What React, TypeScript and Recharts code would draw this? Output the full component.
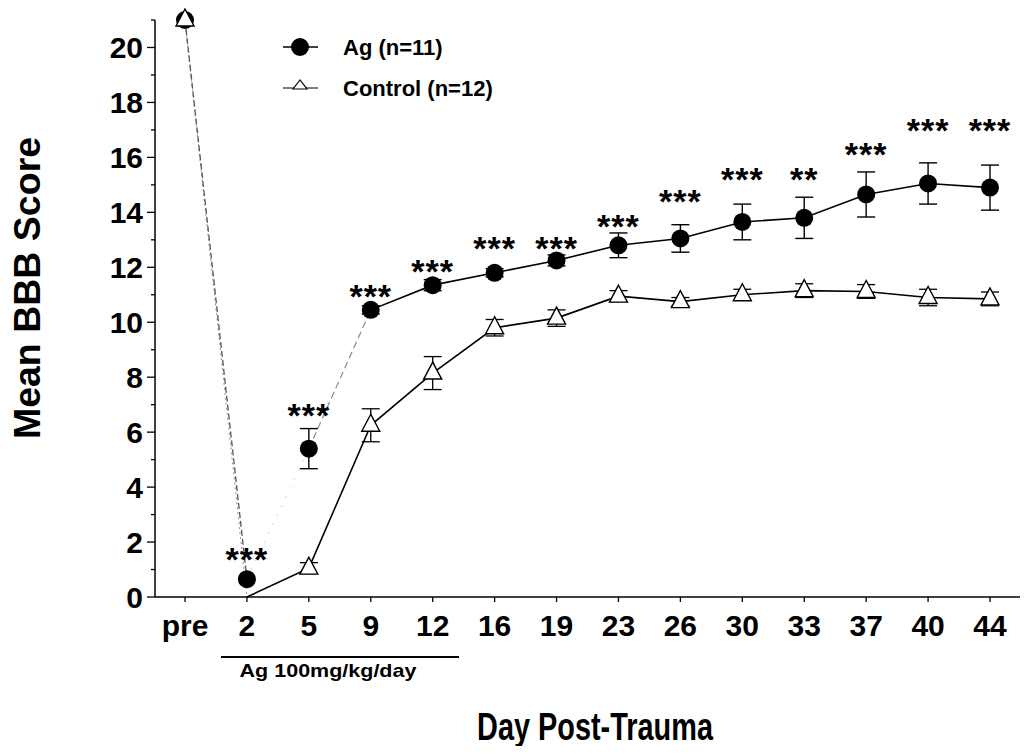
import { LineChart, Line, XAxis, YAxis, ErrorBar, LabelList } from "recharts";

const FONT = '"Liberation Sans", Arial, Helvetica, sans-serif';

const days = ["pre", "2", "5", "9", "12", "16", "19", "23", "26", "30", "33", "37", "40", "44"];
const agMean = [21, 0.65, 5.4, 10.45, 11.35, 11.8, 12.25, 12.8, 13.05, 13.65, 13.8, 14.65, 15.05, 14.9];
const agSem = [null, null, 0.73, 0.15, 0.2, 0.15, 0.2, 0.45, 0.5, 0.65, 0.75, 0.82, 0.75, 0.82];
const ctlMean = [21, 0, 1.05, 6.25, 8.15, 9.8, 10.15, 10.95, 10.75, 11.0, 11.15, 11.12, 10.9, 10.85];
const ctlSem = [null, null, 0.2, 0.6, 0.6, 0.3, 0.3, 0.2, 0.15, 0.2, 0.25, 0.25, 0.3, 0.25];
// significance marks and the height (in score units) they sit at
const sigText = ["", "***", "***", "***", "***", "***", "***", "***", "***", "***", "**", "***", "***", "***"];
const sigLevel = [null, 1.67, 6.9, 11.25, 12.15, 13.0, 13.0, 13.8, 14.7, 15.5, 15.5, 16.4, 17.3, 17.3];
const yTicks = [0, 1, 2, 3, 4, 5, 6, 7, 8, 9, 10, 11, 12, 13, 14, 15, 16, 17, 18, 19, 20, 21];

// early segments are printed faint in the original scan
const i2 = days.indexOf("2");
const i5 = days.indexOf("5");
const i9 = days.indexOf("9");

const data = days.map((day, i) => ({
  day,
  ag: agMean[i],
  agErr: agSem[i],
  agSegA: i <= i2 ? agMean[i] : null,
  agSegB: i >= i2 && i <= i5 ? agMean[i] : null,
  agSegC: i >= i5 && i <= i9 ? agMean[i] : null,
  agSolid: i >= i9 ? agMean[i] : null,
  ctl: ctlMean[i],
  ctlErr: ctlSem[i],
  ctlFaint: i <= i2 ? ctlMean[i] : null,
  ctlSolid: i >= i2 ? ctlMean[i] : null,
  sig: sigLevel[i],
  sigText: sigText[i],
}));

const CircleDot = (props: any) => {
  const { cx, cy, index } = props;
  if (cx == null || cy == null) return <g key={`a${index}`} />;
  return <circle key={`a${index}`} cx={cx} cy={cy} r={9} fill="#000" />;
};

const TriangleDot = (props: any) => {
  const { cx, cy, index, payload } = props;
  if (cx == null || cy == null || payload.day === "2") return <g key={`c${index}`} />;
  return (
    <polygon
      key={`c${index}`}
      points={`${cx},${cy - 11} ${cx - 9},${cy + 6} ${cx + 9},${cy + 6}`}
      fill="#fff"
      stroke="#000"
      strokeWidth={1.4}
    />
  );
};

const YTick = (props: any) => {
  const { x, y, payload } = props;
  const major = payload.value % 2 === 0;
  const ax = x + 12;
  return (
    <g>
      <line x1={ax - (major ? 8 : 4)} x2={ax} y1={y} y2={y} stroke="#000" strokeWidth={1.3} />
      {major && (
        <text x={x} y={y + 11} textAnchor="end" fontSize={30} fontWeight="bold" fontFamily={FONT} fill="#000">
          {payload.value}
        </text>
      )}
    </g>
  );
};

const XTick = (props: any) => {
  const { x, y, payload } = props;
  return (
    <text x={x} y={y + 32} textAnchor="middle" fontSize={30} fontWeight="bold" fontFamily={FONT} fill="#000">
      {payload.value}
    </text>
  );
};

const StarLabel = (props: any) => {
  const { x, y, value } = props;
  if (!value || y == null) return null;
  return (
    <text x={x} y={y + 20} textAnchor="middle" fontSize={34} fontWeight="bold" fontFamily={FONT} fill="#000" letterSpacing={1}>
      {value}
    </text>
  );
};

const LegendBox = () => (
  <svg width={260} height={70} style={{ position: "absolute", left: 272, top: 25 }}>
    <line x1={3} x2={38} y1={14} y2={14} stroke="#000" strokeWidth={1.4} />
    <circle cx={20} cy={14} r={9} fill="#000" />
    <text x={63} y={22} fontSize={22} fontWeight="bold" fontFamily={FONT} fill="#000">Ag (n=11)</text>
    <line x1={3} x2={38} y1={55} y2={55} stroke="#000" strokeWidth={1.2} />
    <polygon points="20,47 13,56 27,56" fill="#fff" stroke="#000" strokeWidth={1.2} />
    <text x={63} y={63} fontSize={22} fontWeight="bold" fontFamily={FONT} fill="#000">Control (n=12)</text>
  </svg>
);

export default function App() {
  return (
    <div style={{ position: "relative", width: 1015, height: 738, background: "#fff", fontFamily: FONT }}>
      <LineChart width={1015} height={738} data={data} margin={{ top: 12, right: 3, left: 0, bottom: 99 }}>
        <XAxis
          dataKey="day"
          padding={{ left: 30, right: 30 }}
          height={50}
          tickSize={5}
          tickMargin={2}
          tick={<XTick />}
          tickLine={{ stroke: "#000", strokeWidth: 1.3 }}
          axisLine={{ stroke: "#000", strokeWidth: 1.5 }}
          interval={0}
        />
        <YAxis
          width={147}
          domain={[0, 21]}
          ticks={yTicks}
          interval={0}
          tickSize={8}
          tickMargin={4}
          tickLine={false}
          tick={<YTick />}
          axisLine={{ stroke: "#000", strokeWidth: 1.5 }}
        />
        <Line dataKey="ctlFaint" stroke="#999" strokeWidth={1.1} strokeDasharray="2 3" dot={false} isAnimationActive={false} legendType="none" />
        <Line dataKey="agSegA" stroke="#555" strokeWidth={1.3} strokeDasharray="6 3" dot={false} isAnimationActive={false} legendType="none" />
        <Line dataKey="agSegB" stroke="#d6d6d6" strokeWidth={1} strokeDasharray="2 8" dot={false} isAnimationActive={false} legendType="none" />
        <Line dataKey="agSegC" stroke="#8a8a8a" strokeWidth={1.2} strokeDasharray="7 4" dot={false} isAnimationActive={false} legendType="none" />
        <Line dataKey="ctlSolid" stroke="#000" strokeWidth={1.6} dot={false} isAnimationActive={false} legendType="none" />
        <Line dataKey="agSolid" stroke="#000" strokeWidth={1.6} dot={false} isAnimationActive={false} legendType="none" />
        <Line dataKey="ag" stroke="none" dot={<CircleDot />} activeDot={false} isAnimationActive={false} legendType="none">
          <ErrorBar dataKey="agErr" direction="y" width={9} stroke="#000" strokeWidth={1.4} />
        </Line>
        <Line dataKey="ctl" stroke="none" dot={<TriangleDot />} activeDot={false} isAnimationActive={false} legendType="none">
          <ErrorBar dataKey="ctlErr" direction="y" width={9} stroke="#000" strokeWidth={1.3} />
        </Line>
        <Line dataKey="sig" stroke="none" dot={false} activeDot={false} isAnimationActive={false} legendType="none">
          <LabelList dataKey="sigText" content={<StarLabel />} />
        </Line>
      </LineChart>

      <LegendBox />
      <div style={{ position: "absolute", left: 213, top: 648, width: 238, height: 2, background: "#000" }} />
      <div
        style={{
          position: "absolute",
          left: 320,
          top: 664,
          transform: "translate(-50%, -50%) scaleY(0.85)",
          fontSize: 21.5,
          fontWeight: "bold",
          whiteSpace: "nowrap",
          lineHeight: 1,
        }}
      >
        Ag 100mg/kg/day
      </div>
      <div
        style={{
          position: "absolute",
          left: 587,
          top: 719,
          transform: "translate(-50%, -50%) scaleX(0.76)",
          fontSize: 38,
          fontWeight: "bold",
          whiteSpace: "nowrap",
          lineHeight: 1,
        }}
      >
        Day Post-Trauma
      </div>
      <div
        style={{
          position: "absolute",
          left: 20,
          top: 280,
          transform: "translate(-50%, -50%) rotate(-90deg)",
          fontSize: 37.5,
          fontWeight: "bold",
          whiteSpace: "nowrap",
          lineHeight: 1,
        }}
      >
        Mean BBB Score
      </div>
    </div>
  );
}
